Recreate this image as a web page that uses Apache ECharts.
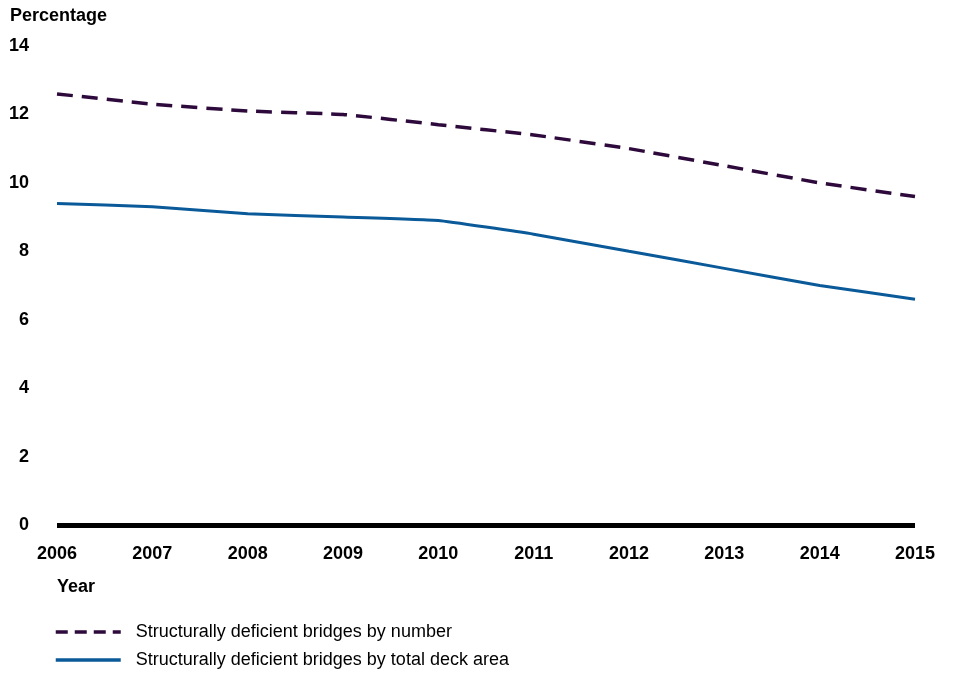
<!DOCTYPE html>
<html><head><meta charset="utf-8">
<script src="https://cdn.jsdelivr.net/npm/echarts@6/dist/echarts.min.js"></script>
<style>html,body{margin:0;padding:0;background:#fff}#c{width:956px;height:674px}</style>
</head><body><div id="c"></div>
<script>
const years = ['2006','2007','2008','2009','2010','2011','2012','2013','2014','2015'];
const byNumber = [12.6, 12.3, 12.1, 12.0, 11.7, 11.4, 11.0, 10.5, 10.0, 9.6];
const byDeckArea = [9.4, 9.3, 9.1, 9.0, 8.9, 8.5, 8.0, 7.5, 7.0, 6.6];
const seriesNames = ['Structurally deficient bridges by number', 'Structurally deficient bridges by total deck area'];
const yTicks = [0, 2, 4, 6, 8, 10, 12, 14];

const chart = echarts.init(document.getElementById('c'));
const F = 'Liberation Sans, Arial, sans-serif';
const legendBase = {
  orient: 'vertical', left: 54, padding: 0, itemWidth: 65, itemHeight: 14,
  itemStyle: {opacity: 0, borderWidth: 0},
  textStyle: {fontFamily: F, fontSize: 18, color: '#000', padding: [0, 0, 0, 10]}
};
chart.setOption({
  animation: false,
  grid: {left: 57, right: 41, top: 46, bottom: 149, containLabel: false},
  graphic: [
    {type: 'text', left: 10, top: 7, style: {text: 'Percentage', font: 'bold 18px ' + F, fill: '#000'}},
    {type: 'text', left: 57, top: 578, style: {text: 'Year', font: 'bold 18px ' + F, fill: '#000'}}
  ],
  legend: [
    Object.assign({}, legendBase, {top: 623, data: [{name: seriesNames[0], lineStyle: {type: [12, 7], width: 3.5}}]}),
    Object.assign({}, legendBase, {top: 651, data: [{name: seriesNames[1], lineStyle: {width: 3.5}}]})
  ],
  xAxis: {
    type: 'category', data: years, boundaryGap: false,
    axisLine: {show: false}, axisTick: {show: false},
    axisLabel: {fontFamily: F, fontSize: 18, fontWeight: 'bold', color: '#000', margin: 20}
  },
  yAxis: {
    type: 'value', min: 0, max: 14, interval: 2,
    axisLine: {show: false}, axisTick: {show: false}, splitLine: {show: false},
    axisLabel: {fontFamily: F, fontSize: 18, fontWeight: 'bold', color: '#000', margin: 28,
      formatter: v => yTicks.includes(v) ? String(v) : ''}
  },
  series: [
    {name: seriesNames[0], type: 'line', data: byNumber, symbol: 'none', smooth: 0.1,
      lineStyle: {color: '#2e0a3c', width: 3.5, type: [16, 9]}, itemStyle: {color: '#2e0a3c'}},
    {name: seriesNames[1], type: 'line', data: byDeckArea, symbol: 'none', smooth: 0.1,
      lineStyle: {color: '#0a5a9a', width: 3}, itemStyle: {color: '#0a5a9a'},
      markLine: {silent: true, symbol: 'none', label: {show: false},
        lineStyle: {color: '#000', width: 5, type: 'solid'}, data: [{yAxis: 0}]}}
  ]
});
</script></body></html>
